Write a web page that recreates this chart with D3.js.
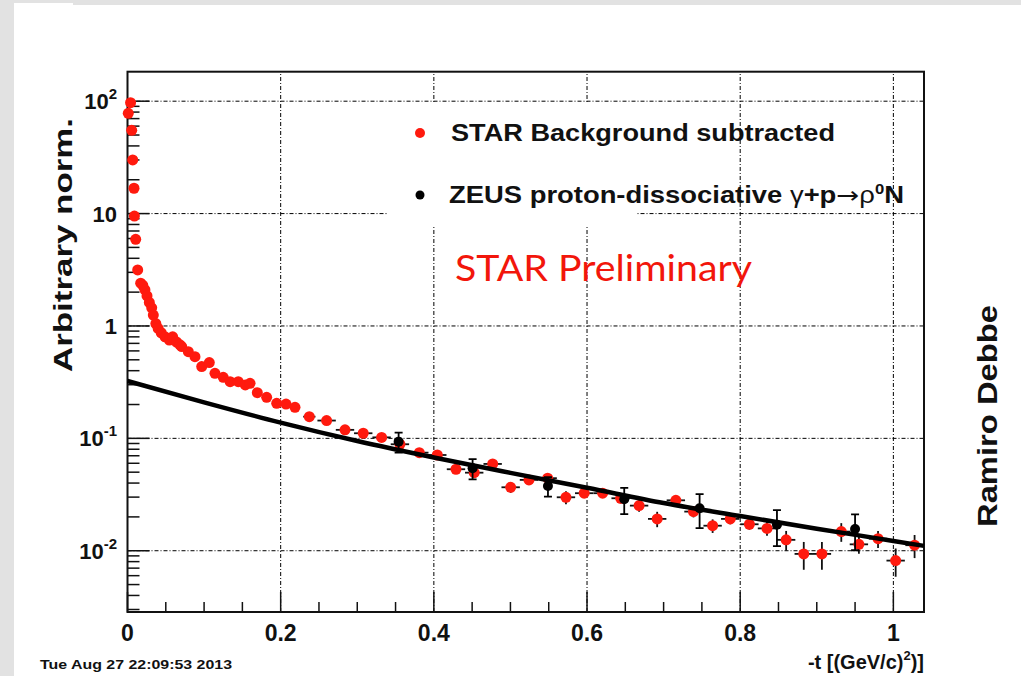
<!doctype html>
<html lang='en'>
<head>
  <meta charset='utf-8'>
  <title>STAR -t distribution</title>
  <style>
    html, body { margin: 0; padding: 0; background: #fff; }
    svg text { font-family: 'Liberation Sans', Arial, sans-serif; font-weight: bold; fill: #111; }
    line.grid { stroke: #000; stroke-width: 1; stroke-dasharray: 4 2 1 2; }
    line.err { stroke: #111; stroke-width: 1.8; }
  </style>
</head>
<body>
  <script src='https://d3js.org/d3.v7.min.js'></script>
  <script>
    // STAR background subtracted (-t, value, y error, half bin width)
    const starT = [0.001, 0.004, 0.0055, 0.0068, 0.0085, 0.009, 0.0107, 0.0133, 0.0172, 0.020,
      0.0228, 0.0255, 0.0285, 0.0316, 0.0337, 0.037, 0.040, 0.044, 0.049, 0.0546,
      0.059, 0.064, 0.0685, 0.0708, 0.0794, 0.0881, 0.0969, 0.1068, 0.1142, 0.125,
      0.134, 0.1446, 0.1538, 0.160, 0.1695, 0.1817, 0.1948, 0.207, 0.2187, 0.2374,
      0.260, 0.284, 0.3078, 0.3318, 0.3557, 0.381, 0.4045, 0.4289, 0.4527, 0.4768,
      0.5003, 0.5242, 0.5486, 0.5725, 0.5963, 0.6204, 0.6439, 0.668, 0.6916, 0.716,
      0.739, 0.764, 0.787, 0.812, 0.835, 0.860, 0.883, 0.9067, 0.932, 0.955,
      0.980, 1.003, 1.0277]
    const starY = [78, 97, 55, 30, 16.8, 9.5, 5.9, 3.15, 2.40, 2.30,
      2.09, 1.85, 1.62, 1.45, 1.25, 1.05, 0.95, 0.87, 0.80, 0.75,
      0.80, 0.72, 0.68, 0.655, 0.59, 0.533, 0.435, 0.472, 0.379, 0.349,
      0.319, 0.319, 0.299, 0.309, 0.255, 0.232, 0.205, 0.202, 0.189, 0.156,
      0.144, 0.119, 0.111, 0.102, 0.0886, 0.0746, 0.0711, 0.0531, 0.0495, 0.0592,
      0.0367, 0.0427, 0.0442, 0.0299, 0.0325, 0.0325, 0.0293, 0.0252, 0.0192, 0.0281,
      0.0223, 0.0167, 0.0192, 0.0172, 0.0158, 0.0125, 0.00937, 0.00937, 0.0148, 0.0114,
      0.0128, 0.00817, 0.0112]
    const starYErr = [2, 2, 1.5, 1, 0.6, 0.4, 0.25, 0.12, 0.1, 0.1,
      0.08, 0.07, 0.06, 0.06, 0.05, 0.04, 0.04, 0.03, 0.03, 0.03,
      0.03, 0.03, 0.025, 0.025, 0.02, 0.02, 0.02, 0.02, 0.015, 0.015,
      0.013, 0.013, 0.012, 0.012, 0.011, 0.01, 0.009, 0.009, 0.009, 0.008,
      0.007, 0.007, 0.006, 0.006, 0.006, 0.005, 0.005, 0.005, 0.004, 0.004,
      0.004, 0.004, 0.004, 0.004, 0.003, 0.003, 0.003, 0.003, 0.003, 0.002,
      0.0025, 0.0023, 0.002, 0.0018, 0.0022, 0.0025, 0.0026, 0.0026, 0.0028, 0.002,
      0.0022, 0.0023, 0.0026]
    const starTErr = [0.001, 0.001, 0.001, 0.001, 0.001, 0.001, 0.001, 0.001, 0.002, 0.002,
      0.002, 0.002, 0.002, 0.002, 0.002, 0.002, 0.002, 0.002, 0.003, 0.003,
      0.003, 0.003, 0.003, 0.003, 0.004, 0.004, 0.004, 0.004, 0.004, 0.004,
      0.004, 0.004, 0.004, 0.004, 0.004, 0.004, 0.004, 0.004, 0.004, 0.008,
      0.012, 0.012, 0.012, 0.012, 0.012, 0.012, 0.012, 0.012, 0.012, 0.012,
      0.012, 0.012, 0.012, 0.012, 0.012, 0.012, 0.012, 0.012, 0.012, 0.012,
      0.012, 0.012, 0.012, 0.012, 0.012, 0.012, 0.012, 0.012, 0.012, 0.012,
      0.012, 0.012, 0.012]

    // ZEUS proton-dissociative
    const zeusT = [0.354, 0.4506, 0.549, 0.6486, 0.747, 0.848, 0.950]
    const zeusY = [0.0935, 0.0542, 0.0377, 0.0287, 0.0239, 0.0170, 0.0156]
    const zeusYErr = [0.019, 0.011, 0.0074, 0.0075, 0.008, 0.006, 0.0055]

    // fitted curve
    const fitT = [0, 0.1, 0.2, 0.3, 0.4, 0.5, 0.6, 0.7, 0.8, 0.9, 1.0, 1.04]
    const fitY = [0.324, 0.209, 0.1379, 0.0946, 0.0675, 0.0493, 0.03635, 0.02658, 0.02036, 0.01572, 0.01223, 0.01105]

    const xTicks = [0, 0.2, 0.4, 0.6, 0.8, 1]
    const xTickLabels = ['0', '0.2', '0.4', '0.6', '0.8', '1']
    const yTicks = [0.01, 0.1, 1, 10, 100]
    const yTickBase = ['10', '10', '1', '10', '10']
    const yTickExp = ['-2', '-1', '', '', '2']

    const width = 1021
    const height = 676

    const x = d3.scaleLinear().domain([0, 1.04]).range([127.5, 924])
    const y = d3.scaleLog().domain([0.00285, 183]).range([612, 71.7])

    const svg = d3.select('body').append('svg')
      .attr('width', width)
      .attr('height', height)

    // page background
    svg.append('rect').attr('width', width).attr('height', height).attr('fill', '#e2e2e2')
    svg.append('rect').attr('x', 14).attr('y', 5).attr('width', width - 14).attr('height', height - 5).attr('fill', '#fff')
    svg.append('rect').attr('x', 14).attr('y', 3).attr('width', 59).attr('height', 4).attr('fill', '#fff')

    const [x0, x1] = x.range()
    const [y0, y1] = y.range()

    // grid
    const grid = svg.append('g')
    grid.selectAll('line.gx')
      .data(xTicks.filter(d => d > 0))
      .join('line')
      .attr('class', 'grid')
      .attr('x1', d => x(d)).attr('x2', d => x(d))
      .attr('y1', y0).attr('y2', y1)
    grid.selectAll('line.gy')
      .data(yTicks)
      .join('line')
      .attr('class', 'grid')
      .attr('x1', x0).attr('x2', x1)
      .attr('y1', d => y(d)).attr('y2', d => y(d))

    // legend box hides grid
    svg.append('rect')
      .attr('x', 388).attr('y', 103)
      .attr('width', 249).attr('height', 122)
      .attr('fill', '#fff')

    // ticks (inside the frame)
    const axes = svg.append('g').attr('stroke', '#111').attr('stroke-width', 1.5)
    const xMinor = d3.range(0, 1.04, 0.05)
    axes.selectAll('line.xt')
      .data(xMinor)
      .join('line')
      .attr('x1', d => x(d)).attr('x2', d => x(d))
      .attr('y1', y0).attr('y2', (d, i) => i % 4 === 0 ? y0 - 20 : y0 - 10)

    const yMinor = []
    for (let e = -3; e <= 2; e++) {
      for (let m = 1; m <= 9; m++) {
        const v = m * Math.pow(10, e)
        if (v >= 0.00285 && v <= 183) yMinor.push({ v, major: m === 1 })
      }
    }
    axes.selectAll('line.yt')
      .data(yMinor)
      .join('line')
      .attr('x1', x0).attr('x2', d => d.major ? x0 + 22 : x0 + 12)
      .attr('y1', d => y(d.v)).attr('y2', d => y(d.v))

    // frame
    svg.append('rect')
      .attr('x', x0).attr('y', y1)
      .attr('width', x1 - x0).attr('height', y0 - y1)
      .attr('fill', 'none').attr('stroke', '#111').attr('stroke-width', 2)

    // tick labels
    svg.append('g').selectAll('text')
      .data(xTicks)
      .join('text')
      .attr('x', d => x(d))
      .attr('y', 641)
      .attr('text-anchor', 'middle')
      .style('font-size', '23px')
      .text((d, i) => xTickLabels[i])

    const yl = svg.append('g').selectAll('text')
      .data(yTicks)
      .join('text')
      .attr('x', 117)
      .attr('y', d => y(d) + 8)
      .attr('text-anchor', 'end')
      .style('font-size', '22px')
    yl.append('tspan').text((d, i) => yTickBase[i])
    yl.append('tspan')
      .attr('dy', -10)
      .style('font-size', '15px')
      .text((d, i) => yTickExp[i])

    // STAR points
    const star = starT.map((t, i) => ({ t, v: starY[i], e: starYErr[i], dt: starTErr[i] }))
    const sg = svg.append('g')
    sg.selectAll('line.ev')
      .data(star)
      .join('line')
      .attr('class', 'err')
      .attr('x1', d => x(d.t)).attr('x2', d => x(d.t))
      .attr('y1', d => y(Math.max(d.v - d.e, 0.003))).attr('y2', d => y(d.v + d.e))
    sg.selectAll('line.eh')
      .data(star)
      .join('line')
      .attr('class', 'err')
      .attr('x1', d => Math.max(x(d.t - d.dt), x0)).attr('x2', d => x(d.t + d.dt))
      .attr('y1', d => y(d.v)).attr('y2', d => y(d.v))
    sg.selectAll('circle')
      .data(star)
      .join('circle')
      .attr('cx', d => x(d.t))
      .attr('cy', d => y(d.v))
      .attr('r', 5.5)
      .attr('fill', '#ff1a0e')

    // fit curve
    const line = d3.line()
      .x(d => x(d[0]))
      .y(d => y(d[1]))
      .curve(d3.curveMonotoneX)
    svg.append('path')
      .datum(fitT.map((t, i) => [t, fitY[i]]))
      .attr('d', line)
      .attr('fill', 'none')
      .attr('stroke', '#000')
      .attr('stroke-width', 4.5)

    // ZEUS points
    const zeus = zeusT.map((t, i) => ({ t, v: zeusY[i], e: zeusYErr[i] }))
    const zg = svg.append('g')
    zg.selectAll('path')
      .data(zeus)
      .join('path')
      .attr('fill', 'none')
      .attr('stroke', '#000')
      .attr('stroke-width', 1.8)
      .attr('d', d => {
        const cx = x(d.t)
        const top = y(d.v + d.e)
        const bot = y(d.v - d.e)
        return `M${cx},${top}V${bot}M${cx - 4},${top}H${cx + 4}M${cx - 4},${bot}H${cx + 4}`
      })
    zg.selectAll('circle')
      .data(zeus)
      .join('circle')
      .attr('cx', d => x(d.t))
      .attr('cy', d => y(d.v))
      .attr('r', 5)
      .attr('fill', '#000')

    // legend
    svg.append('circle').attr('cx', 420).attr('cy', 133).attr('r', 5).attr('fill', '#ff1a0e')
    svg.append('circle').attr('cx', 420).attr('cy', 195).attr('r', 4.5).attr('fill', '#000')
    svg.append('text')
      .attr('x', 451).attr('y', 141)
      .attr('textLength', 384).attr('lengthAdjust', 'spacingAndGlyphs')
      .style('font-size', '23px')
      .text('STAR Background subtracted')
    const leg2 = svg.append('text')
      .attr('x', 449).attr('y', 203)
      .attr('textLength', 455).attr('lengthAdjust', 'spacingAndGlyphs')
      .style('font-size', '23px')
    leg2.append('tspan').text('ZEUS proton-dissociative ')
    leg2.append('tspan').style('font-weight', 'normal').text('γ')
    leg2.append('tspan').text('+p')
    leg2.append('tspan').style('font-family', '"DejaVu Sans", sans-serif').style('font-weight', 'normal').text('→')
    leg2.append('tspan').style('font-weight', 'normal').text('ρ')
    leg2.append('tspan').attr('dy', -9).style('font-size', '14px').text('0')
    leg2.append('tspan').attr('dy', 9).text('N')

    svg.append('text')
      .attr('x', 455).attr('y', 281)
      .attr('textLength', 297).attr('lengthAdjust', 'spacingAndGlyphs')
      .style('font-family', 'Lato, "Open Sans", sans-serif')
      .style('font-weight', 'normal')
      .style('font-size', '37px')
      .style('fill', '#f2160b')
      .text('STAR Preliminary')

    // axis titles
    svg.append('text')
      .attr('transform', 'translate(72,245) rotate(-90)')
      .attr('text-anchor', 'middle')
      .attr('textLength', 254).attr('lengthAdjust', 'spacingAndGlyphs')
      .style('font-size', '25px')
      .text('Arbitrary norm.')

    const xt = svg.append('text')
      .attr('x', 924).attr('y', 669)
      .attr('text-anchor', 'end')
      .style('font-size', '20px')
    xt.append('tspan').text('-t [(GeV/c)')
    xt.append('tspan').attr('dy', -9).style('font-size', '13px').text('2')
    xt.append('tspan').attr('dy', 9).text(')]')

    svg.append('text')
      .attr('x', 40).attr('y', 669)
      .attr('textLength', 192).attr('lengthAdjust', 'spacingAndGlyphs')
      .style('font-size', '13px')
      .text('Tue Aug 27 22:09:53 2013')

    svg.append('text')
      .attr('transform', 'translate(997,416) rotate(-90)')
      .attr('text-anchor', 'middle')
      .attr('textLength', 222).attr('lengthAdjust', 'spacingAndGlyphs')
      .style('font-size', '27px')
      .text('Ramiro Debbe')
  </script>
</body>
</html>
